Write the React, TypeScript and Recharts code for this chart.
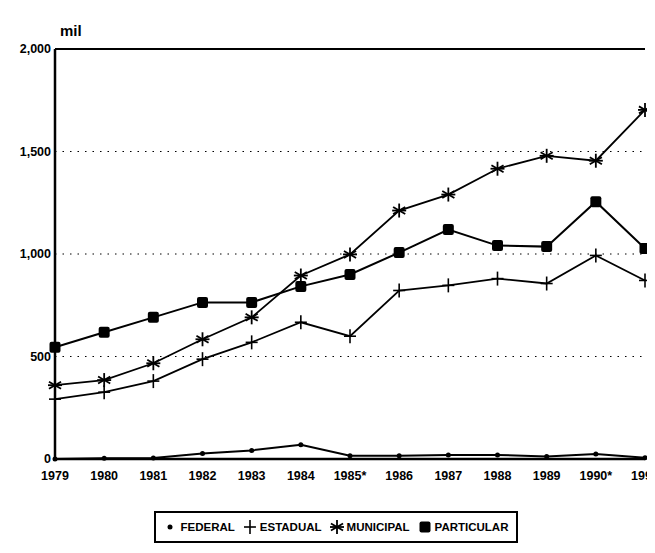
import { LineChart, Line, XAxis, YAxis, CartesianGrid, ReferenceLine } from 'recharts';

const YEARS = ['1979', '1980', '1981', '1982', '1983', '1984', '1985*', '1986', '1987', '1988', '1989', '1990*', '1991'];
const FEDERAL = [0, 4, 5, 27, 42, 70, 16, 16, 20, 20, 12, 24, 6];
const ESTADUAL = [292, 326, 380, 487, 569, 667, 599, 822, 847, 880, 856, 993, 871];
const MUNICIPAL = [360, 385, 467, 584, 691, 895, 998, 1212, 1290, 1416, 1479, 1455, 1703];
const PARTICULAR = [545, 618, 691, 764, 764, 842, 900, 1007, 1119, 1041, 1036, 1255, 1027];
const Y_TICKS = [0, 500, 1000, 1500, 2000];

const data = YEARS.map((year, i) => ({
  year,
  federal: FEDERAL[i],
  estadual: ESTADUAL[i],
  municipal: MUNICIPAL[i],
  particular: PARTICULAR[i],
}));

const FONT = '"Liberation Sans", Arial, sans-serif';

const DotMark = ({ cx, cy }: any) => <circle cx={cx} cy={cy} r={2.5} fill="#000" />;

const PlusMark = ({ cx, cy }: any) => (
  <g stroke="#000" strokeWidth={1.6}>
    <line x1={cx - 6} y1={cy} x2={cx + 6} y2={cy} />
    <line x1={cx} y1={cy - 7} x2={cx} y2={cy + 7} />
  </g>
);

const StarMark = ({ cx, cy }: any) => {
  const r = 7;
  const angles = [90, 30, 150, 0];
  return (
    <g stroke="#000" strokeWidth={1.8}>
      {angles.map((a) => {
        const dx = r * Math.cos((a * Math.PI) / 180);
        const dy = r * Math.sin((a * Math.PI) / 180);
        return <line key={a} x1={cx - dx} y1={cy - dy} x2={cx + dx} y2={cy + dy} />;
      })}
    </g>
  );
};

const SquareMark = ({ cx, cy }: any) => (
  <rect x={cx - 5.5} y={cy - 5.5} width={11} height={11} rx={2} fill="#000" />
);

const legendItems = [
  { label: 'FEDERAL', Mark: DotMark },
  { label: 'ESTADUAL', Mark: PlusMark },
  { label: 'MUNICIPAL', Mark: StarMark },
  { label: 'PARTICULAR', Mark: SquareMark },
];

const Legend = () => (
  <div
    style={{
      position: 'absolute',
      left: 146,
      top: 503,
      width: 364,
      height: 32,
      border: '2px solid #000',
      boxSizing: 'border-box',
      display: 'flex',
      alignItems: 'center',
      justifyContent: 'center',
      gap: 8,
      fontFamily: FONT,
      fontWeight: 'bold',
      fontSize: 11.5,
    }}
  >
    {legendItems.map(({ label, Mark }) => (
      <span key={label} style={{ display: 'flex', alignItems: 'center', gap: 3 }}>
        <svg width={14} height={16}>
          <Mark cx={7} cy={8} />
        </svg>
        {label}
      </span>
    ))}
  </div>
);

const tickStyle = { fontFamily: FONT, fontWeight: 'bold', fontSize: 12.5, fill: '#000' };

export default function App() {
  return (
    <div style={{ position: 'relative', width: 647, height: 545, overflow: 'hidden' }}>
      <div
        style={{
          position: 'absolute',
          left: 52,
          top: 14,
          fontFamily: FONT,
          fontWeight: 'bold',
          fontSize: 15,
        }}
      >
        mil
      </div>
      <LineChart width={690} height={485} data={data} margin={{ top: 41, right: 53, bottom: 0, left: 0 }}>
        <CartesianGrid vertical={false} stroke="#000" strokeDasharray="1.5 6" />
        <XAxis
          dataKey="year"
          height={34}
          interval={0}
          tick={tickStyle}
          tickLine={false}
          tickSize={3}
          tickMargin={9}
          axisLine={{ stroke: '#000', strokeWidth: 2.5 }}
          padding={{ left: 0, right: 0 }}
        />
        <YAxis
          domain={[0, 2000]}
          ticks={Y_TICKS}
          width={47}
          tick={tickStyle}
          tickLine={false}
          tickSize={2}
          tickMargin={2}
          tickFormatter={(v: number) => v.toLocaleString('en-US')}
          axisLine={{ stroke: '#000', strokeWidth: 2.5 }}
        />
        <YAxis
          yAxisId="right"
          orientation="right"
          width={0}
          tick={false}
          tickLine={false}
          axisLine={{ stroke: '#000', strokeWidth: 2 }}
        />
        <ReferenceLine y={2000} stroke="#000" strokeWidth={2} />
        <Line dataKey="federal" stroke="#000" strokeWidth={2} dot={<DotMark />} isAnimationActive={false} />
        <Line dataKey="estadual" stroke="#000" strokeWidth={1.8} dot={<PlusMark />} isAnimationActive={false} />
        <Line dataKey="municipal" stroke="#000" strokeWidth={1.8} dot={<StarMark />} isAnimationActive={false} />
        <Line dataKey="particular" stroke="#000" strokeWidth={2} dot={<SquareMark />} isAnimationActive={false} />
      </LineChart>
      <Legend />
    </div>
  );
}
